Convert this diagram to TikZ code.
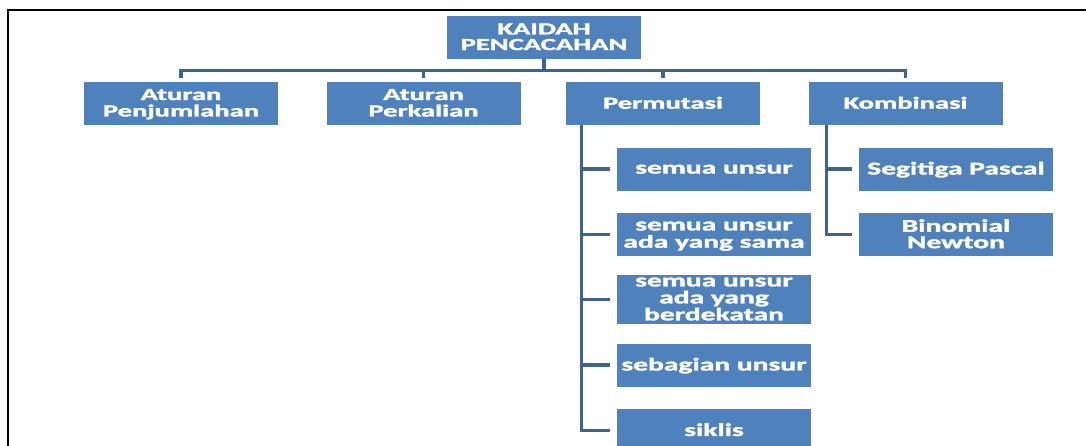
\documentclass[tikz,border=0pt]{standalone}
\usepackage{fontspec}
\setmainfont{Carlito}[BoldFeatures={FakeBold=1.5}]
\usepackage{graphicx}
\definecolor{boxblue}{RGB}{79,129,189}
\definecolor{linkblue}{RGB}{65,98,142}
\newcommand\lblA[1]{\raisebox{-1.5pt}[\height][\depth]{\scalebox{1.68}[1]{\fontsize{17}{15}\selectfont\begin{tabular}{@{}c@{}}#1\end{tabular}}}}
\newcommand\lblB[1]{\raisebox{-1.5pt}[\height][\depth]{\scalebox{1.64}[1]{\fontsize{18}{15.5}\selectfont\begin{tabular}{@{}c@{}}#1\end{tabular}}}}
\newcommand\lblC[1]{\raisebox{-1pt}[\height][\depth]{\scalebox{1.64}[1]{\fontsize{18}{14.5}\selectfont\begin{tabular}{@{}c@{}}#1\end{tabular}}}}
\tikzset{
  bluebox/.style={fill=boxblue, text=white, font=\bfseries, minimum width=194pt, minimum height=43pt, inner sep=0pt},
  conn/.style={draw=linkblue, line width=3.2pt},
  frameline/.style={draw=black, line width=2pt}
}
\begin{document}
\begin{tikzpicture}[x=1pt,y=-1pt]
\useasboundingbox (0,0) rectangle (1086,445);
\clip (0,0) rectangle (1086,445);
\draw[frameline] (7.5,446) -- (7.5,10) -- (1087,10);

\node[bluebox] (top) at (544,37.5) {\lblA{KAIDAH\\PENCACAHAN}};
\node[bluebox] (ap) at (181,103.5) {\lblA{Aturan\\Penjumlahan}};
\node[bluebox] (ak) at (423.5,103.5) {\lblA{Aturan\\Perkalian}};
\node[bluebox] (perm) at (663,103.5) {\lblA{Permutasi}};
\node[bluebox] (komb) at (905.5,103.5) {\lblA{Kombinasi}};

\node[bluebox] (p1) at (714,169) {\lblB{semua unsur}};
\node[bluebox] (p2) at (714,234.5) {\lblB{semua unsur\\ada yang sama}};
\node[bluebox] (p3) at (714,299.5) {\lblC{semua unsur\\ada yang\\berdekatan}};
\node[bluebox] (p4) at (714,365) {\lblB{sebagian unsur}};
\node[bluebox] (p5) at (714,430.5) {\lblB{siklis}};

\node[bluebox] (k1) at (956,169) {\lblB{Segitiga Pascal}};
\node[bluebox] (k2) at (956,234.5) {\lblB{Binomial\\Newton}};

\foreach \c in {ap,ak,perm,komb}
  \draw[conn] (top.south) -- ++(0,11) -| ([yshift=4pt]\c.north);

\foreach \c in {p1,p2,p3,p4,p5}
  \draw[conn] ([xshift=16pt]perm.south west) |- ([xshift=-7pt]\c.west);
\foreach \c in {k1,k2}
  \draw[conn] ([xshift=18pt]komb.south west) |- ([xshift=-7pt]\c.west);
\end{tikzpicture}
\end{document}
